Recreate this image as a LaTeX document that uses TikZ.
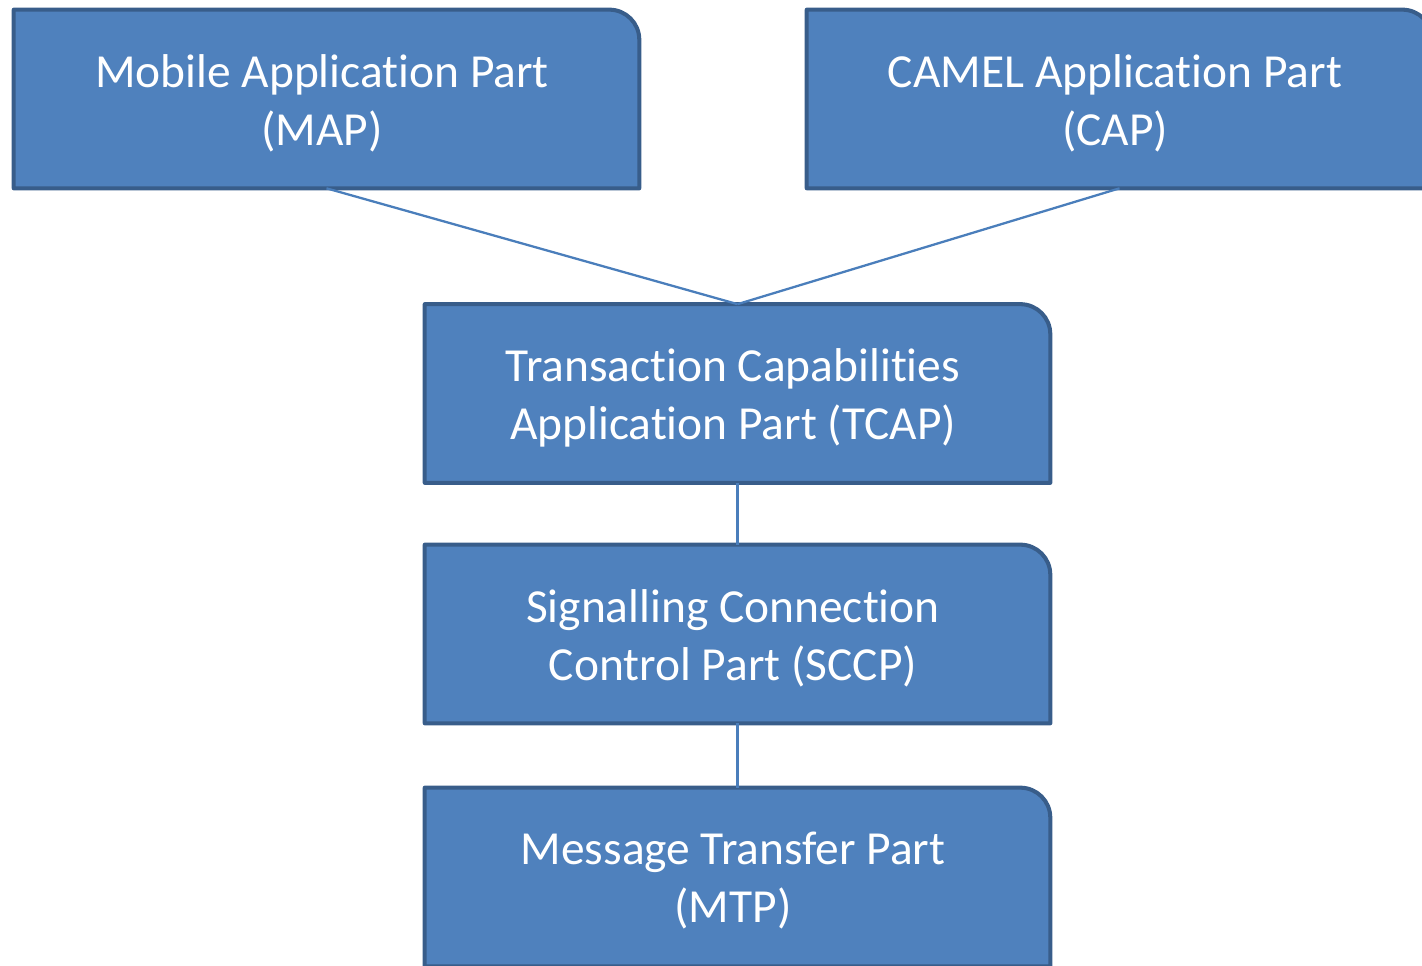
\documentclass[tikz,border=0pt]{standalone}
\usepackage{fontspec}
\setmainfont{Carlito}[Ligatures={NoCommon,NoContextual},Contextuals=NoAlternate]
\usetikzlibrary{backgrounds}

\begin{document}
\begin{tikzpicture}[x=0.02cm,y=0.02cm]
\definecolor{layerFill}{HTML}{4F81BD}
\definecolor{layerEdge}{HTML}{385D8A}
\definecolor{layerLink}{HTML}{4A7EBB}
\tikzset{
  layer/.style={minimum width=12.5cm,minimum height=3.56cm,inner sep=0pt},
  layertext/.style={align=center,text=white,inner sep=0pt,
    xshift=-0.09cm,yshift=-0.08cm,font=\fontsize{27}{33}\selectfont},
  layerbox/.style={fill=layerFill,draw=layerEdge,line width=2.3pt,line join=round},
  link/.style={draw=layerLink,line width=1.3pt}
}
\useasboundingbox (0,0) rectangle (1422,966);
\node[layer,label={[layertext]center:Mobile Application Part\\(MAP)}] (map) at (326.5,867) {};
\node[layer,label={[layertext]center:CAMEL Application Part\\(CAP)}] (cap) at (1119.5,867) {};
\node[layer,label={[layertext]center:Transaction Capabilities\\Application Part (TCAP)}] (tcap) at (737.5,572.5) {};
\node[layer,label={[layertext]center:Signalling Connection\\Control Part (SCCP)}] (sccp) at (737.5,332) {};
\node[layer,label={[layertext]center:Message Transfer Part\\(MTP)}] (mtp) at (737.5,89) {};
\begin{scope}[on background layer]
\foreach \n in {map,cap,tcap,sccp,mtp}
  \draw[layerbox] (\n.south west) -- (\n.north west) -- ([xshift=-0.6cm]\n.north east)
    arc[start angle=90,end angle=0,radius=0.6cm] -- (\n.south east) -- cycle;
\end{scope}
\draw[link] (map.south) -- (tcap.north);
\draw[link] (cap.south) -- (tcap.north);
\draw[link] (tcap.south) -- (sccp.north);
\draw[link] (sccp.south) -- (mtp.north);
\end{tikzpicture}
\end{document}
